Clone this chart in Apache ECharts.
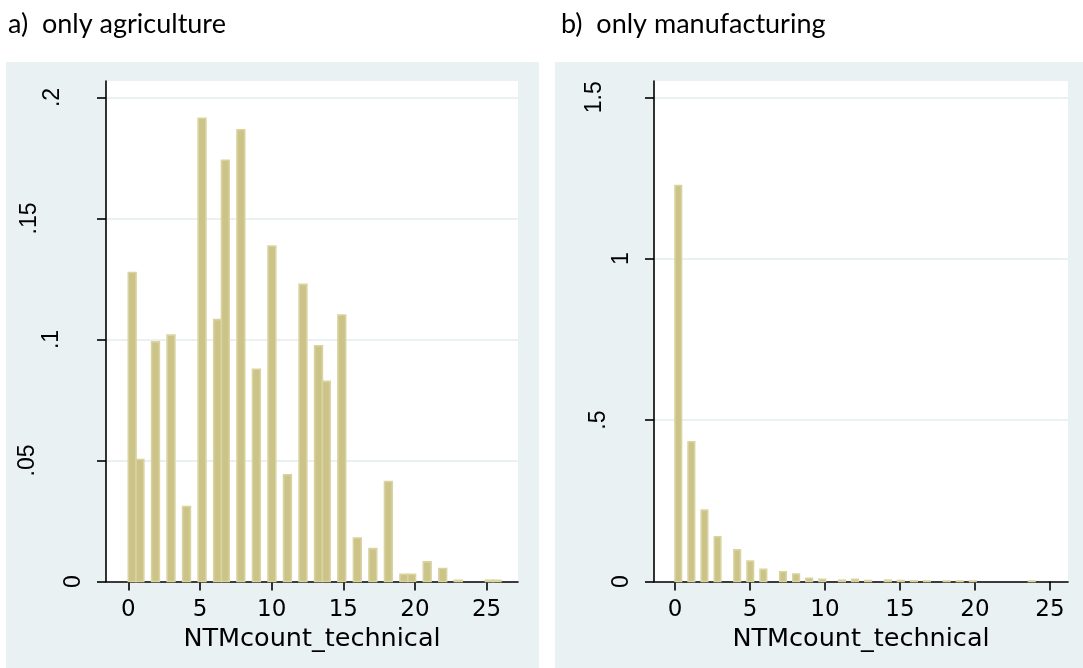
<!DOCTYPE html>
<html>
<head>
<meta charset="utf-8">
<script src="https://cdn.jsdelivr.net/npm/echarts@6/dist/echarts.min.js"></script>
<style>
  html, body { margin: 0; padding: 0; background: #ffffff; }
  #chart { width: 1083px; height: 668px; }
</style>
</head>
<body>
<div id="chart"></div>
<script>
// Number of technical NTMs per product line, with histogram densities
const agriCounts  = [0, 1, 2, 3, 4, 5, 6, 7, 8, 9, 10, 11, 12, 13, 14, 15, 16, 17, 18, 19, 20, 21, 22, 23, 24, 25, 26];
const agriDensity = [0.1277, 0.0504, 0.0990, 0.1018, 0.0310, 0.1914, 0.1082, 0.1741, 0.1867, 0.0877,
                     0.1386, 0.0441, 0.1228, 0.0974, 0.0827, 0.1101, 0.0180, 0.0136, 0.0413, 0.0030,
                     0.0030, 0.0081, 0.0054, 0.0005, 0.0000, 0.0005, 0.0005];
const manuCounts  = [0, 1, 2, 3, 4, 5, 6, 7, 8, 9, 10, 11, 12, 13, 14, 15, 16, 17, 18, 19, 20, 21, 22, 23, 24];
const manuDensity = [1.2268, 0.4330, 0.2210, 0.1385, 0.0980, 0.0630, 0.0375, 0.0300, 0.0233, 0.0103,
                     0.0072, 0.0041, 0.0072, 0.0030, 0.0041, 0.0030, 0.0020, 0.0015, 0.0015, 0.0015,
                     0.0015, 0.0000, 0.0000, 0.0000, 0.0015];

// histogram binning: equal-width bins from 0 up to the largest count
const agriBinCount = 48, agriMaxCount = 26;
const manuBinCount = 55, manuMaxCount = 24;

const xTicks     = [0, 5, 10, 15, 20, 25];
const agriYTicks = [0, 0.05, 0.1, 0.15, 0.2];
const manuYTicks = [0, 0.5, 1, 1.5];

const panelTitles = ['a)  only agriculture', 'b)  only manufacturing'];
const xTitle = 'NTMcount_technical';

const BAR_FILL = '#CBC388';
const BAR_EDGE = '#D9D3A0';
const REGION_BG = '#EAF1F3';
const GRID_LINE = '#EAF1F3';

// place every count into its bin: [binStart, binEnd, density]
function toBins(counts, dens, nBins, maxCount) {
  const w = maxCount / nBins;
  const out = [];
  counts.forEach(function (c, i) {
    if (!(dens[i] > 0)) return;
    const b = Math.min(Math.floor(c * nBins / maxCount + 1e-9), nBins - 1);
    out.push([b * w, (b + 1) * w, dens[i]]);
  });
  return out;
}

// Stata-style numbers: drop the leading zero
function fmt(v) {
  if (Math.abs(v) < 1e-12) return '0';
  return String(+v.toFixed(4)).replace(/^0\./, '.');
}

function renderBar(params, api) {
  const p0 = api.coord([api.value(0), 0]);
  const p1 = api.coord([api.value(1), api.value(2)]);
  return {
    type: 'rect',
    shape: { x: p0[0], y: p1[1], width: p1[0] - p0[0], height: p0[1] - p1[1] },
    style: { fill: BAR_FILL, stroke: BAR_EDGE, lineWidth: 1.6 }
  };
}

// rotated y labels: extra offset away from the axis per label
function yLabelRich(ticks, shifts) {
  const rich = {};
  ticks.forEach(function (t, i) {
    rich['t' + i] = {
      fontFamily: 'Liberation Sans', fontSize: 23, color: '#000', lineHeight: 23,
      padding: [0, 0, shifts[i], 0]
    };
  });
  return rich;
}
function yLabelFormatter(ticks) {
  return function (v) {
    let idx = 0;
    ticks.forEach(function (t, i) { if (Math.abs(t - v) < 1e-9) idx = i; });
    return '{t' + idx + '|' + fmt(v) + '}';
  };
}

function xAxisOpt(gridIndex, min, max) {
  return {
    type: 'value', gridIndex: gridIndex, min: min, max: max,
    name: xTitle, nameLocation: 'middle', nameGap: 42,
    nameTextStyle: { fontFamily: 'DejaVu Sans', fontSize: 25.5, color: '#000' },
    axisLine: { show: true, onZero: false, lineStyle: { color: '#000', width: 1.6 } },
    axisTick: { show: true, length: 9, customValues: xTicks, lineStyle: { color: '#000', width: 1.6 } },
    axisLabel: { show: true, customValues: xTicks, margin: 17, formatter: fmt,
                 fontFamily: 'DejaVu Sans', fontSize: 23, color: '#000' },
    splitLine: { show: false }
  };
}

function yAxisOpt(gridIndex, max, ticks, shifts) {
  return {
    type: 'value', gridIndex: gridIndex, min: 0, max: max,
    axisLine: { show: true, onZero: false, lineStyle: { color: '#000', width: 1.6 } },
    axisTick: { show: true, length: 9, customValues: ticks, lineStyle: { color: '#000', width: 1.6 } },
    axisLabel: { show: true, customValues: ticks, rotate: 90, margin: 21,
                 formatter: yLabelFormatter(ticks), rich: yLabelRich(ticks, shifts) },
    splitLine: { show: true, lineStyle: { color: GRID_LINE, width: 2.2 } }
  };
}

const chart = echarts.init(document.getElementById('chart'), null, { renderer: 'canvas' });

chart.setOption({
  animation: false,
  backgroundColor: '#ffffff',
  graphic: [
    { type: 'rect', z: -10, shape: { x: 6, y: 62, width: 533, height: 606 }, style: { fill: REGION_BG } },
    { type: 'rect', z: -10, shape: { x: 555, y: 62, width: 528, height: 606 }, style: { fill: REGION_BG } },
    { type: 'text', x: 8, y: 24, style: { text: panelTitles[0], font: '27px Lato', fill: '#000',
      textVerticalAlign: 'middle', verticalAlign: 'middle' } },
    { type: 'text', x: 561, y: 24, style: { text: panelTitles[1], font: '27px Lato', fill: '#000',
      textVerticalAlign: 'middle', verticalAlign: 'middle' } }
  ],
  grid: [
    { left: 106, top: 81, width: 412, height: 500.5, show: true, backgroundColor: '#ffffff', borderWidth: 0 },
    { left: 654, top: 81, width: 414, height: 500.5, show: true, backgroundColor: '#ffffff', borderWidth: 0 }
  ],
  xAxis: [
    xAxisOpt(0, -1.556, 27.19),
    xAxisOpt(1, -1.4, 26.2)
  ],
  yAxis: [
    yAxisOpt(0, 0.20682, agriYTicks, [0, 92, 44, 88, 42]),
    yAxisOpt(1, 1.5505, manuYTicks, [0, 45, 0, 54])
  ],
  series: [
    { type: 'custom', xAxisIndex: 0, yAxisIndex: 0, renderItem: renderBar,
      data: toBins(agriCounts, agriDensity, agriBinCount, agriMaxCount) },
    { type: 'custom', xAxisIndex: 1, yAxisIndex: 1, renderItem: renderBar,
      data: toBins(manuCounts, manuDensity, manuBinCount, manuMaxCount) }
  ]
});
</script>
</body>
</html>
